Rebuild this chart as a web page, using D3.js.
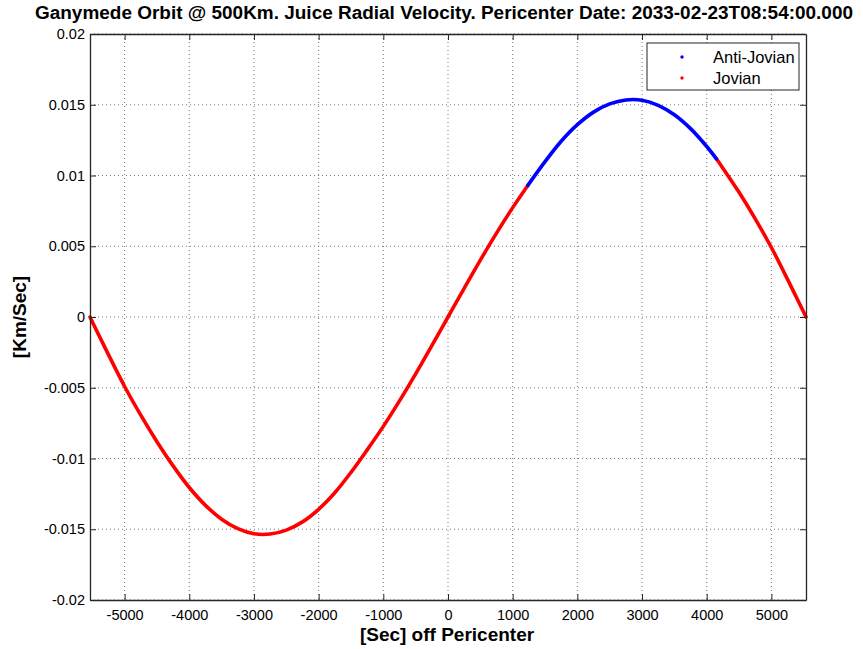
<!DOCTYPE html>
<html>
<head>
<meta charset="utf-8">
<script src="https://cdn.jsdelivr.net/npm/d3@7"></script>
<style>
  body { margin: 0; background: #fff; }
  svg { display: block; font-family: "Liberation Sans", Arial, sans-serif; }
</style>
</head>
<body>
<svg id="chart" width="863" height="649"></svg>
<script>
// ---- data ----
const timeSec = [-5535, -5500, -5250, -5000, -4750, -4500, -4250, -4000, -3750, -3500, -3250, -3000, -2750, -2500, -2250, -2000, -1750, -1500, -1250, -1000, -750, -500, -250,
  0, 250, 500, 750, 1000, 1234, 1500, 1750, 2000, 2250, 2500, 2750, 3000, 3250, 3500, 3750, 4000, 4150, 4250, 4500, 4750, 5000, 5250, 5500, 5535];
const radialVelocity = [0, -0.00033, -0.00266, -0.00491, -0.00694, -0.00881, -0.01052, -0.01205, -0.01331, -0.01429, -0.01496, -0.01532, -0.01534, -0.01506, -0.01448, -0.01359, -0.01242, -0.01098, -0.00939, -0.00773, -0.00593, -0.00402, -0.00203,
  0, 0.00203, 0.00402, 0.00593, 0.00773, 0.00930, 0.01098, 0.01242, 0.01359, 0.01448, 0.01506, 0.01534, 0.01532, 0.01496, 0.01429, 0.01331, 0.01205, 0.01118, 0.01052, 0.00881, 0.00694, 0.00491, 0.00266, 0.00033, 0];
const antiJovianRange = [1234, 4150];
const seriesNames = ["Anti-Jovian", "Jovian"];
const seriesColors = ["#0000ff", "#ff0000"];
const xTicks = [-5000, -4000, -3000, -2000, -1000, 0, 1000, 2000, 3000, 4000, 5000];
const yTicks = [-0.02, -0.015, -0.01, -0.005, 0, 0.005, 0.01, 0.015, 0.02];
const yTickLabels = ["-0.02", "-0.015", "-0.01", "-0.005", "0", "0.005", "0.01", "0.015", "0.02"];
const titleText = "Ganymede Orbit @ 500Km. Juice Radial Velocity. Pericenter Date: 2033-02-23T08:54:00.000";
const xLabelText = "[Sec] off Pericenter";
const yLabelText = "[Km/Sec]";

// ---- layout ----
const svg = d3.select("#chart");
const L = 90, R = 806, T = 34, B = 600;
const x = d3.scaleLinear().domain([-5535, 5535]).range([L, R]);
const y = d3.scaleLinear().domain([-0.02, 0.02]).range([B, T]);
const frame = "#262626";

// grid
const grid = svg.append("g");
grid.selectAll(".gx").data(xTicks).join("line")
  .attr("x1", d => x(d)).attr("x2", d => x(d)).attr("y1", T).attr("y2", B)
  .attr("stroke", "#7a7a7a").attr("stroke-width", 1).attr("stroke-dasharray", "1,3");
grid.selectAll(".gy").data(yTicks).join("line")
  .attr("x1", L).attr("x2", R).attr("y1", d => y(d)).attr("y2", d => y(d))
  .attr("stroke", "#7a7a7a").attr("stroke-width", 1).attr("stroke-dasharray", "1,3");

// data lines
const pts = timeSec.map((t, i) => ({ t, v: radialVelocity[i] }));
const line = d3.line().x(d => x(d.t)).y(d => y(d.v)).curve(d3.curveCatmullRom);
const jovA = pts.filter(d => d.t <= antiJovianRange[0]);
const jovB = pts.filter(d => d.t >= antiJovianRange[1]);
const anti = pts.filter(d => d.t >= antiJovianRange[0] && d.t <= antiJovianRange[1]);
[[jovA, seriesColors[1]], [jovB, seriesColors[1]], [anti, seriesColors[0]]].forEach(([data, c]) => {
  svg.append("path").datum(data).attr("d", line)
    .attr("fill", "none").attr("stroke", c).attr("stroke-width", 3.6).attr("stroke-linecap", "round");
});

// axes (MATLAB-style box with inward ticks)
const fontSize = 14.5;
const axB = svg.append("g").attr("transform", `translate(0,${B})`)
  .call(d3.axisBottom(x).tickValues(xTicks).tickSizeInner(-6).tickSizeOuter(0).tickPadding(8).tickFormat(d => String(d)));
const axT = svg.append("g").attr("transform", `translate(0,${T})`)
  .call(d3.axisTop(x).tickValues(xTicks).tickSizeInner(-6).tickSizeOuter(0).tickFormat(""));
const axL = svg.append("g").attr("transform", `translate(${L},0)`)
  .call(d3.axisLeft(y).tickValues(yTicks).tickSizeInner(-6).tickSizeOuter(0).tickPadding(5).tickFormat((d, i) => yTickLabels[i]));
const axR = svg.append("g").attr("transform", `translate(${R},0)`)
  .call(d3.axisRight(y).tickValues(yTicks).tickSizeInner(-6).tickSizeOuter(0).tickFormat(""));
[axB, axT, axL, axR].forEach(a => {
  a.select(".domain").attr("stroke", frame).attr("stroke-width", 1.3);
  a.selectAll(".tick line").attr("stroke", frame);
  a.selectAll("text").attr("font-size", fontSize).attr("fill", "#000")
    .attr("font-family", "'Liberation Sans', Arial, sans-serif");
});
axB.selectAll("text").attr("dy", "0.8em");

// title & labels
svg.append("text").attr("x", 444).attr("y", 19).attr("text-anchor", "middle")
  .attr("font-size", 17.5).attr("font-weight", "bold")
  .attr("textLength", 818).attr("lengthAdjust", "spacingAndGlyphs").text(titleText);
svg.append("text").attr("x", 447).attr("y", 641).attr("text-anchor", "middle")
  .attr("font-size", 19).attr("font-weight", "bold").text(xLabelText);
svg.append("text").attr("transform", `translate(26,${(T + B) / 2}) rotate(-90)`).attr("text-anchor", "middle")
  .attr("font-size", 19).attr("font-weight", "bold").text(yLabelText);

// legend
const lg = svg.append("g").attr("transform", "translate(647,43)");
lg.append("rect").attr("width", 152).attr("height", 47).attr("fill", "#fff").attr("stroke", frame).attr("stroke-width", 1);
seriesNames.forEach((n, i) => {
  lg.append("circle").attr("cx", 35).attr("cy", 14 + i * 21).attr("r", 1.7).attr("fill", seriesColors[i]);
  lg.append("text").attr("x", 66).attr("y", 14 + i * 21).attr("dy", "0.35em").attr("font-size", 16.5).text(n);
});
</script>
</body>
</html>
